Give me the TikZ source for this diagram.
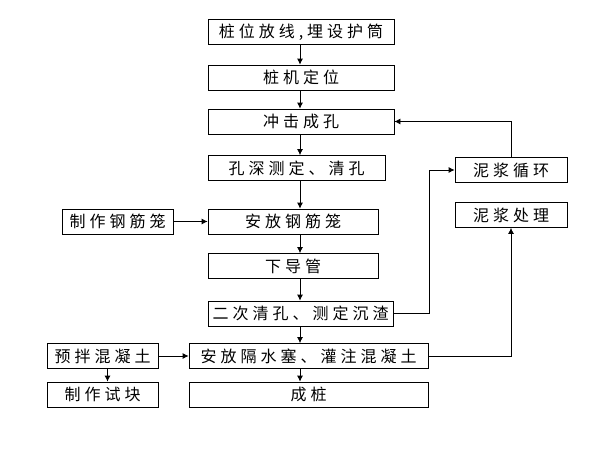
\documentclass[tikz,border=0pt]{standalone}
\usepackage{fontspec}
\newfontfamily\cjk[LetterSpace=25]{Noto Sans CJK SC}
\usetikzlibrary{arrows.meta,positioning,calc}

\begin{document}
\begin{tikzpicture}[x=1pt,y=-1pt,line width=0.8pt,
  >={Latex[length=6pt,width=6pt]},
  box/.style={draw,inner sep=0pt,minimum height=25pt,
    font={\cjk\fontsize{16pt}{18pt}\selectfont}}]
  \useasboundingbox (0,0) rectangle (600,450);
  \coordinate (axis) at (300,0);

  % Main column
  \node[box,minimum width=186pt] (zwfx) at (301,32)    {桩位放线,埋设护筒};
  \node[box,minimum width=186pt] (zjdw) at (301,77.5)  {桩机定位};
  \node[box,minimum width=186pt] (cjck) at (301,121.5) {冲击成孔};
  \node[box,minimum width=177pt] (ksqk) at (296.5,168) {孔深测定、清孔};
  \node[box,minimum width=170pt] (afgj) at (293,221.5) {安放钢筋笼};
  \node[box,minimum width=170pt] (xdg)  at (293,266)   {下导管};
  \node[box,minimum width=185pt] (ecqk) at (300.5,313.5) {二次清孔、测定沉渣};
  \node[box,minimum width=239pt] (afgs) at (308.5,356) {安放隔水塞、灌注混凝土};
  \node[box,minimum width=239pt] (cz)   at (308.5,394.5) {成桩};

  % Side boxes
  \node[box,minimum width=111pt] (zzgj) at (117.5,221.5) {制作钢筋笼};
  \node[box,minimum width=111pt] (ybh)  at (102.5,356)   {预拌混凝土};
  \node[box,minimum width=111pt] (zzsk) at (102.5,394.5) {制作试块};
  \node[box,minimum width=112pt] (njxh) at (511,170)     {泥浆循环};
  \node[box,minimum width=112pt] (njcl) at (511,215)     {泥浆处理};

  % Main flow
  \draw[->] (zwfx.south -| axis) -- (zjdw.north -| axis);
  \draw[->] (zjdw.south -| axis) -- (cjck.north -| axis);
  \draw[->] (cjck.south -| axis) -- (ksqk.north -| axis);
  \draw[->] (ksqk.south -| axis) -- (afgj.north -| axis);
  \draw[->] (afgj.south -| axis) -- (xdg.north -| axis);
  \draw[->] (xdg.south -| axis)  -- (ecqk.north -| axis);
  \draw[->] (ecqk.south -| axis) -- (afgs.north -| axis);
  \draw[->] (afgs.south -| axis) -- (cz.north -| axis);

  % Side feeds
  \draw[->] (zzgj.east) -- (zzgj.east -| afgj.west);
  \draw[->] (ybh.east) -- (afgs.west);
  \draw[->] ([xshift=5pt]ybh.south) -- ([xshift=5pt]zzsk.north);

  % Slurry loop
  \draw[->] (njxh.north) |- (cjck.east);
  \draw[->] (ecqk.east) -- ++(36,0) |- (njxh.west);
  \draw[->] (afgs.east) -| (njcl.south);
\end{tikzpicture}
\end{document}
